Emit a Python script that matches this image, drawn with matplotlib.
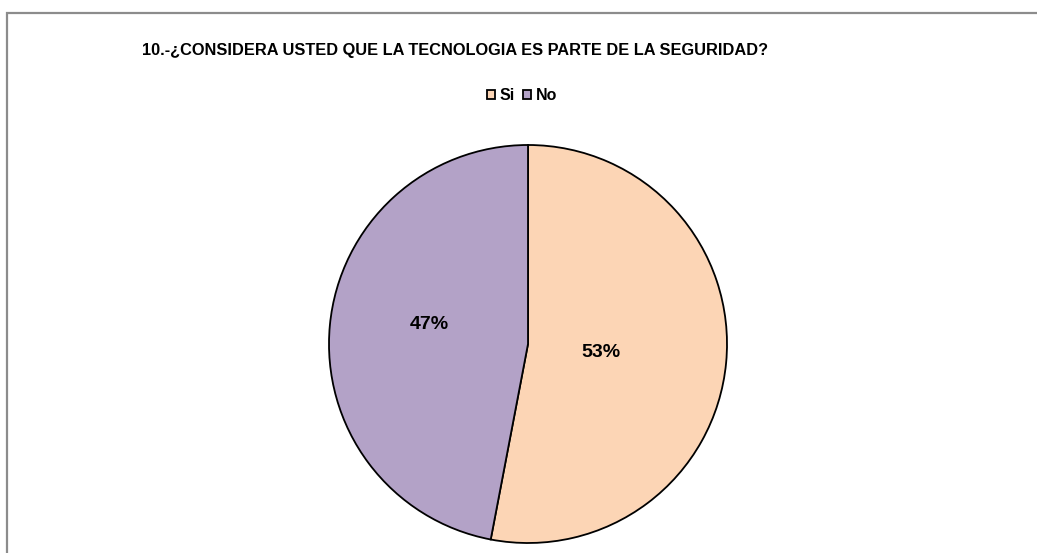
import numpy as np
import matplotlib.pyplot as plt
from matplotlib.patches import Rectangle

plt.rcParams['font.family'] = ['Liberation Sans', 'DejaVu Sans']

categories = ['Si', 'No']
values = [53, 47]
colors = ['#FCD5B5', '#B3A2C7']
title = '10.-¿CONSIDERA USTED QUE LA TECNOLOGIA ES PARTE DE LA SEGURIDAD?'

W, H = 1037, 553
fig = plt.figure(figsize=(W / 100, H / 100), dpi=100)

# marco gris del area del grafico (continua fuera de la imagen por la derecha y abajo)
fig.add_artist(Rectangle((6.5 / W, -0.1), 1.2, (H - 13.5) / H + 0.1,
                         transform=fig.transFigure, fill=False,
                         edgecolor='#8c8c8c', lw=1.6))

# eje del pastel: centro (528, 344) px, radio 200 px
cx, cy, r = 528, H - 344, 200
ax = fig.add_axes([(cx - r) / W, (cy - r) / H, 2 * r / W, 2 * r / H])
wedges, texts, autotexts = ax.pie(
    values, colors=colors, startangle=90, counterclock=False,
    autopct='%1.0f%%', pctdistance=0.4,
    wedgeprops=dict(edgecolor='black', linewidth=1.3),
    textprops=dict(fontsize=14, fontweight='bold', color='black'))
ax.set_xlim(-1.005, 1.005)
ax.set_ylim(-1.005, 1.005)
ax.set_aspect('equal')

# ajustar posicion de cada etiqueta
dist = [0.37, 0.5]
shift = [-0.01, 0.05]
for w, t, d, s in zip(wedges, autotexts, dist, shift):
    ang = np.deg2rad((w.theta1 + w.theta2) / 2)
    t.set_position((d * np.cos(ang), d * np.sin(ang) + s))

fig.text(455 / W, 1 - 50 / H, title, ha='center', va='center',
         fontsize=11.8, fontweight='bold')

fig.legend(wedges, categories, loc='center', bbox_to_anchor=(522 / W, 1 - 96 / H),
           ncol=2, frameon=False, prop=dict(size=11.5, weight='bold'),
           handlelength=0.5, handleheight=0.5, handletextpad=0.3, columnspacing=0.5)

plt.savefig('out.png', dpi=100)
plt.close()
